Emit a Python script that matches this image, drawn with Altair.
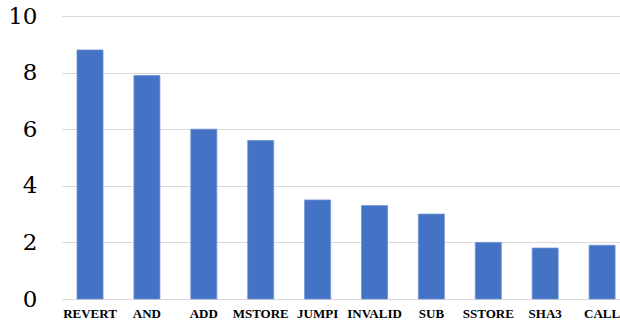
import altair as alt
import pandas as pd

opcodes = ["REVERT", "AND", "ADD", "MSTORE", "JUMPI", "INVALID", "SUB", "SSTORE", "SHA3", "CALL"]
values = [8.8, 7.9, 6.0, 5.6, 3.5, 3.3, 3.0, 2.0, 1.8, 1.9]

df = pd.DataFrame({"opcode": opcodes, "value": values})

chart = (
    alt.Chart(df)
    .mark_bar(color="#4472C4", stroke="#6f93d3", strokeWidth=0.8)
    .encode(
        x=alt.X(
            "opcode:N",
            sort=opcodes,
            title=None,
            scale=alt.Scale(paddingInner=0.543, paddingOuter=0.175, align=0.754),
            axis=alt.Axis(
                labelAngle=0,
                labelFont="Liberation Serif",
                labelFontWeight="bold",
                labelFontSize=13,
                labelColor="#000000",
                labelPadding=8,
                ticks=False,
                domain=False,
                grid=False,
            ),
        ),
        y=alt.Y(
            "value:Q",
            title=None,
            scale=alt.Scale(domain=[0, 10], nice=False),
            axis=alt.Axis(
                values=[0, 2, 4, 6, 8, 10],
                labelFont="DejaVu Serif",
                labelFontSize=23,
                labelColor="#000000",
                labelPadding=25,
                ticks=False,
                domain=False,
                domainColor="transparent",
                gridColor="#d9d9d9",
                gridWidth=1.2,
            ),
        ),
    )
    .properties(
        width=558,
        height=283,
        autosize=alt.AutoSizeParams(type="none"),
        padding={"left": 62, "top": 16, "right": 0, "bottom": 26},
    )
    .configure(background="#ffffff")
    .configure_axis(domain=False, domainColor="transparent")
    .configure_view(stroke="transparent", strokeWidth=0)
)

chart.save("out.html", embed_options={"renderer": "svg", "actions": False})
